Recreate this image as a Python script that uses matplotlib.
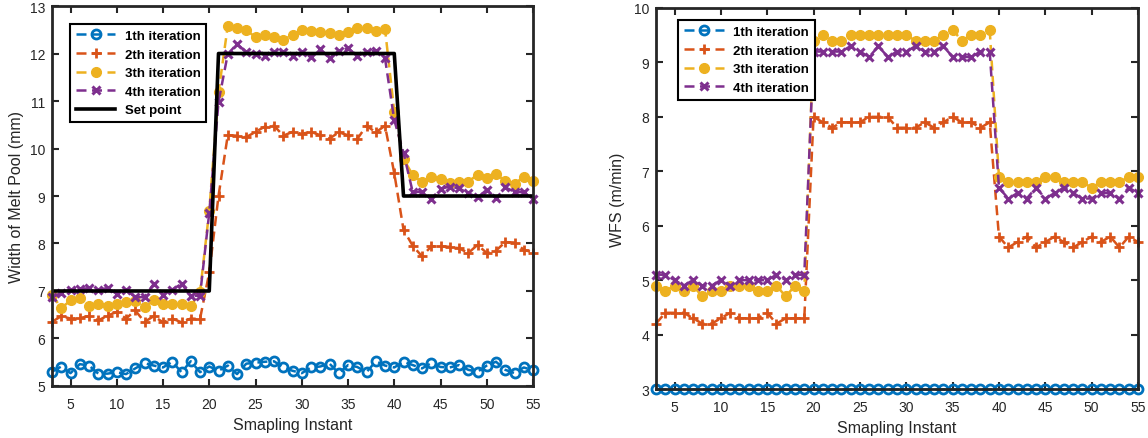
import numpy as np
import matplotlib
matplotlib.use("Agg")
import matplotlib.pyplot as plt

plt.rcParams['font.family'] = ['Liberation Sans', 'DejaVu Sans']

# ---------------- data ----------------
samples = list(range(3, 56))

# Left panel: width of melt pool (mm)
width_iter1 = [5.30, 5.41, 5.27, 5.46, 5.43, 5.26, 5.26, 5.29, 5.25, 5.37,
               5.48, 5.43, 5.39, 5.51, 5.29, 5.52, 5.29, 5.41, 5.32, 5.43,
               5.25, 5.47, 5.49, 5.51, 5.52, 5.39, 5.32, 5.27, 5.39, 5.41,
               5.47, 5.27, 5.44, 5.40, 5.29, 5.52, 5.43, 5.39, 5.51, 5.44,
               5.37, 5.48, 5.40, 5.39, 5.44, 5.34, 5.30, 5.43, 5.51, 5.34,
               5.27, 5.39, 5.33]
width_iter2 = [6.35, 6.47, 6.42, 6.43, 6.47, 6.38, 6.48, 6.56, 6.42, 6.59,
               6.35, 6.47, 6.34, 6.42, 6.34, 6.42, 6.41, 7.39, 9.00, 10.28,
               10.27, 10.24, 10.35, 10.46, 10.48, 10.27, 10.35, 10.31, 10.35, 10.28,
               10.21, 10.34, 10.28, 10.20, 10.48, 10.34, 10.48, 9.48, 8.29, 7.95,
               7.73, 7.94, 7.94, 7.93, 7.90, 7.80, 7.97, 7.80, 7.85, 8.03,
               8.02, 7.87, 7.81]
width_iter3 = [6.92, 6.64, 6.80, 6.85, 6.69, 6.73, 6.69, 6.73, 6.76, 6.78,
               6.66, 6.80, 6.73, 6.72, 6.72, 6.69, 6.97, 8.69, 11.18, 12.58,
               12.53, 12.50, 12.34, 12.39, 12.34, 12.29, 12.39, 12.50, 12.48, 12.46,
               12.43, 12.39, 12.46, 12.53, 12.53, 12.48, 12.52, 10.77, 9.78, 9.44,
               9.29, 9.39, 9.36, 9.27, 9.30, 9.30, 9.45, 9.37, 9.46, 9.32,
               9.25, 9.41, 9.32]
width_iter4 = [6.87, 6.96, 7.03, 7.04, 7.06, 7.03, 7.06, 6.94, 7.03, 6.87,
               6.87, 7.15, 6.92, 7.03, 7.15, 6.90, 6.90, 8.65, 10.98, 11.99,
               12.20, 12.03, 11.99, 11.94, 12.03, 12.03, 11.94, 12.03, 11.92, 12.09,
               11.90, 12.06, 12.11, 11.95, 12.03, 12.06, 11.90, 10.60, 9.91, 9.08,
               9.09, 8.94, 9.15, 9.20, 9.16, 9.06, 8.97, 9.13, 8.95, 9.18,
               9.09, 9.08, 8.94]
setpoint_x = [3, 20, 21, 40, 41, 55]
setpoint_y = [7, 7, 12, 12, 9, 9]

# Right panel: WFS (m/min)
wfs_iter1 = [3.0, 3.0, 3.0, 3.0, 3.0, 3.0, 3.0, 3.0, 3.0, 3.0,
             3.0, 3.0, 3.0, 3.0, 3.0, 3.0, 3.0, 3.0, 3.0, 3.0,
             3.0, 3.0, 3.0, 3.0, 3.0, 3.0, 3.0, 3.0, 3.0, 3.0,
             3.0, 3.0, 3.0, 3.0, 3.0, 3.0, 3.0, 3.0, 3.0, 3.0,
             3.0, 3.0, 3.0, 3.0, 3.0, 3.0, 3.0, 3.0, 3.0, 3.0,
             3.0, 3.0, 3.0]
wfs_iter2 = [4.2, 4.4, 4.4, 4.4, 4.3, 4.2, 4.2, 4.3, 4.4, 4.3,
             4.3, 4.3, 4.4, 4.2, 4.3, 4.3, 4.3, 8.0, 7.9, 7.8,
             7.9, 7.9, 7.9, 8.0, 8.0, 8.0, 7.8, 7.8, 7.8, 7.9,
             7.8, 7.9, 8.0, 7.9, 7.9, 7.8, 7.9, 5.8, 5.6, 5.7,
             5.8, 5.6, 5.7, 5.8, 5.7, 5.6, 5.7, 5.8, 5.7, 5.8,
             5.6, 5.8, 5.7]
wfs_iter3 = [4.9, 4.8, 4.9, 4.8, 4.9, 4.7, 4.8, 4.8, 4.9, 4.9,
             4.9, 4.8, 4.8, 4.9, 4.7, 4.9, 4.8, 9.4, 9.5, 9.4,
             9.4, 9.5, 9.5, 9.5, 9.5, 9.5, 9.5, 9.5, 9.4, 9.4,
             9.4, 9.5, 9.6, 9.4, 9.5, 9.5, 9.6, 6.9, 6.8, 6.8,
             6.8, 6.8, 6.9, 6.9, 6.8, 6.8, 6.8, 6.7, 6.8, 6.8,
             6.8, 6.9, 6.9]
wfs_iter4 = [5.1, 5.1, 5.0, 4.9, 5.0, 4.9, 4.9, 5.0, 4.9, 5.0,
             5.0, 5.0, 5.0, 5.1, 5.0, 5.1, 5.1, 9.2, 9.2, 9.2,
             9.2, 9.3, 9.2, 9.1, 9.3, 9.1, 9.2, 9.2, 9.3, 9.2,
             9.2, 9.3, 9.1, 9.1, 9.1, 9.2, 9.2, 6.7, 6.5, 6.6,
             6.5, 6.7, 6.5, 6.6, 6.7, 6.6, 6.5, 6.5, 6.6, 6.6,
             6.5, 6.7, 6.6]

labels = ['1th iteration', '2th iteration', '3th iteration', '4th iteration']
setpoint_label = 'Set point'
x_ticks = [5, 10, 15, 20, 25, 30, 35, 40, 45, 50, 55]
left_yticks = [5, 6, 7, 8, 9, 10, 11, 12, 13]
right_yticks = [3, 4, 5, 6, 7, 8, 9, 10]

# ---------------- styling ----------------
colors = ['#0072BD', '#D95319', '#EDB120', '#7E2F8E']
AX_COL = '#262626'
dash = (0, (4, 2.2))

def draw_series(ax, series):
    styles = [
        dict(marker='o', markersize=6.5, markerfacecolor='none', markeredgewidth=2.0),
        dict(marker='+', markersize=7.5, markeredgewidth=2.0),
        dict(marker='o', markersize=7, markeredgewidth=1.0),
        dict(marker='x', markersize=5.5, markeredgewidth=2.2),
    ]
    handles = []
    for vals, col, st, lab in zip(series, colors, styles, labels):
        h, = ax.plot(samples, vals, linestyle=dash, color=col, linewidth=1.8,
                     markeredgecolor=col, label=lab, clip_on=False, zorder=3, **st)
        if st['marker'] == 'o' and st.get('markerfacecolor') != 'none':
            h.set_markerfacecolor(col)
        handles.append(h)
    return handles

def style_axes(ax, yticks, ylim):
    ax.set_xlim(3, 55)
    ax.set_ylim(*ylim)
    ax.set_xticks(x_ticks)
    ax.set_yticks(yticks)
    ax.tick_params(direction='in', length=5, width=1.5, top=True, right=True,
                   labelsize=10, colors=AX_COL)
    ax.tick_params(axis='x', pad=8)
    ax.tick_params(axis='y', pad=5)
    for sp in ax.spines.values():
        sp.set_linewidth(2.0)
        sp.set_color(AX_COL)
        sp.set_zorder(5)
    ax.set_axisbelow(False)
    ax.set_xlabel('Smapling Instant', fontsize=11.5, color=AX_COL, labelpad=4)

fig = plt.figure(figsize=(11.48, 4.39), dpi=100)
ax1 = fig.add_axes([0.0453, 0.1185, 0.4190, 0.8655])
ax2 = fig.add_axes([0.5714, 0.1116, 0.4199, 0.8679])

leg_kw = dict(loc='upper left', borderaxespad=0, fancybox=False, framealpha=1,
              edgecolor='black', prop={'weight': 'bold', 'size': 9.5},
              handlelength=3.0, handletextpad=0.7, labelspacing=0.48, borderpad=0.45)

# Left
h1 = draw_series(ax1, [width_iter1, width_iter2, width_iter3, width_iter4])
hs, = ax1.plot(setpoint_x, setpoint_y, color='black', linewidth=2.6,
               label=setpoint_label, zorder=4)
style_axes(ax1, left_yticks, (5, 13))
ax1.set_ylabel('Width of Melt Pool (mm)', fontsize=11.5, color=AX_COL, labelpad=4)
leg1 = ax1.legend(handles=h1 + [hs], bbox_to_anchor=(0.037, 0.953), **leg_kw)
leg1.get_frame().set_linewidth(1.5)
leg1.set_zorder(10)

# Right
h2 = draw_series(ax2, [wfs_iter1, wfs_iter2, wfs_iter3, wfs_iter4])
style_axes(ax2, right_yticks, (3, 10))
ax2.set_ylabel('WFS (m/min)', fontsize=11.5, color=AX_COL, labelpad=6)
leg2 = ax2.legend(handles=h2, bbox_to_anchor=(0.046, 0.969), **leg_kw)
leg2.get_frame().set_linewidth(1.5)
leg2.set_zorder(10)

fig.savefig('out.png', dpi=100)
